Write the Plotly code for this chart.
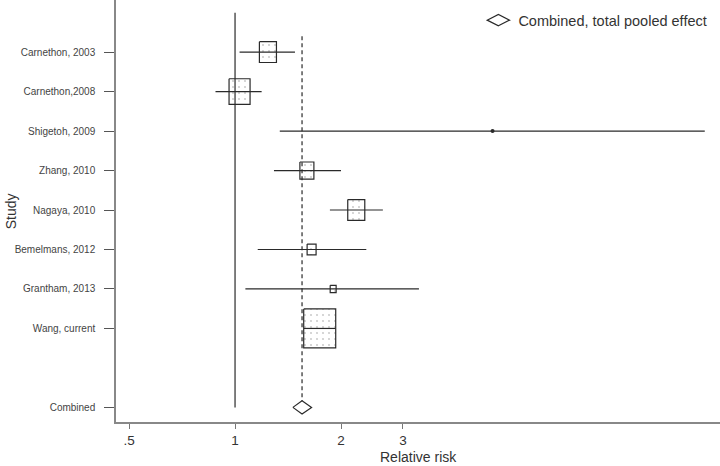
import numpy as np
import plotly.graph_objects as go

# study data (relative risk, 95% CI, weight %)
studies = ["Carnethon, 2003", "Carnethon,2008", "Shigetoh, 2009", "Zhang, 2010",
           "Nagaya, 2010", "Bemelmans, 2012", "Grantham, 2013", "Wang, current"]
rr = [1.24, 1.03, 5.39, 1.60, 2.21, 1.65, 1.90, 1.74]
ci_low = [1.03, 0.88, 1.34, 1.29, 1.86, 1.16, 1.07, 1.57]
ci_high = [1.48, 1.19, 21.6, 2.00, 2.63, 2.36, 3.33, 1.93]
weight = [12.3, 18.7, 0.05, 8.3, 12.3, 3.4, 1.5, 43.4]
pooled_rr = 1.55
pooled_low = 1.46
pooled_high = 1.65
rows = [1, 2, 3, 4, 5, 6, 7, 8]
pooled_row = 10
xticks = [0.5, 1, 2, 3]
xticklabels = [".5", "1", "2", "3"]

line_col = "#2a2a2a"
fig = go.Figure()

# box size from weight (area ~ weight), pixel scale -> axis units
px_per_dec = 352.0
px_per_row = 39.5
for i in range(len(studies)):
    w_px = 4.86 * np.sqrt(weight[i])
    if w_px < 3:
        continue
    hw = 10 ** (w_px / 2 / px_per_dec)
    hh = 1.22 * w_px / 2 / px_per_row
    x0, x1 = rr[i] / hw, rr[i] * hw
    y0, y1 = rows[i] - hh, rows[i] + hh
    fig.add_trace(go.Scatter(
        x=[x0, x1, x1, x0, x0], y=[y0, y0, y1, y1, y0], mode="lines",
        fill="toself", fillcolor="white",
        fillpattern=dict(shape=".", fgcolor="#999999", bgcolor="white", size=6, solidity=0.1),
        line=dict(color=line_col, width=1.2), showlegend=False, hoverinfo="skip"))

# confidence interval lines
for i in range(len(studies)):
    fig.add_trace(go.Scatter(x=[ci_low[i], ci_high[i]], y=[rows[i], rows[i]], mode="lines",
                             line=dict(color=line_col, width=1.2), showlegend=False,
                             hoverinfo="skip"))

# point estimate for the tiny-weight study
fig.add_trace(go.Scatter(x=[rr[2]], y=[rows[2]], mode="markers",
                         marker=dict(color=line_col, size=4), showlegend=False))

# null line and pooled line
fig.add_trace(go.Scatter(x=[1, 1], y=[0, pooled_row], mode="lines",
                         line=dict(color=line_col, width=1.2), showlegend=False, hoverinfo="skip"))
fig.add_trace(go.Scatter(x=[pooled_rr, pooled_rr], y=[0.6, pooled_row], mode="lines",
                         line=dict(color=line_col, width=1.2, dash="4px,3px"), showlegend=False,
                         hoverinfo="skip"))

# pooled diamond
dh = 0.17
fig.add_trace(go.Scatter(
    x=[pooled_low, pooled_rr, pooled_high, pooled_rr, pooled_low],
    y=[pooled_row, pooled_row - dh, pooled_row, pooled_row + dh, pooled_row],
    mode="lines", fill="toself", fillcolor="white", line=dict(color=line_col, width=1.2),
    showlegend=False, hoverinfo="skip"))

# legend entry
fig.add_trace(go.Scatter(x=[None], y=[None], mode="markers", name="Combined, total pooled effect",
                         marker=dict(symbol="diamond-wide-open", size=18, color=line_col,
                                     line=dict(width=1.2))))

fig.update_layout(
    width=720, height=466,
    margin=dict(l=116, r=0, t=0, b=44),
    plot_bgcolor="white", paper_bgcolor="white",
    font=dict(family="Liberation Sans, Arial", color="#333333"),
    legend=dict(x=0.6, y=0.99, xanchor="left", yanchor="top", font=dict(size=14.5),
                bgcolor="rgba(0,0,0,0)"),
    xaxis=dict(type="log", range=[np.log10(0.459), np.log10(0.459) + 604 / px_per_dec],
               tickvals=xticks, ticktext=xticklabels, ticks="outside", ticklen=5,
               tickcolor="#777777", showgrid=False, zeroline=False, showline=True,
               linecolor="#888888", linewidth=1.5, tickfont=dict(size=13.5, color="#333333"),
               automargin=False),
    yaxis=dict(range=[10.37, -0.32], tickvals=rows + [pooled_row],
               ticktext=studies + ["Combined"], ticks="outside", ticklen=10,
               tickcolor="#555555", showgrid=False, zeroline=False, showline=True,
               linecolor="#888888", linewidth=1.5, tickfont=dict(size=10, color="#444444"),
               ticklabelstandoff=7, automargin=False),
    annotations=[
        dict(text="Relative risk", x=0.5, y=-0.083, xref="paper", yref="paper",
             xanchor="center", yanchor="middle", showarrow=False,
             font=dict(size=14, color="#333333")),
        dict(text="Study", x=-0.19, y=0.5, xref="paper", yref="paper", textangle=-90,
             xanchor="left", yanchor="middle", showarrow=False,
             font=dict(size=14, color="#333333")),
    ],
)

fig.write_html("out.html", config={"displayModeBar": False},
               post_script="document.body.style.margin='0px';")
